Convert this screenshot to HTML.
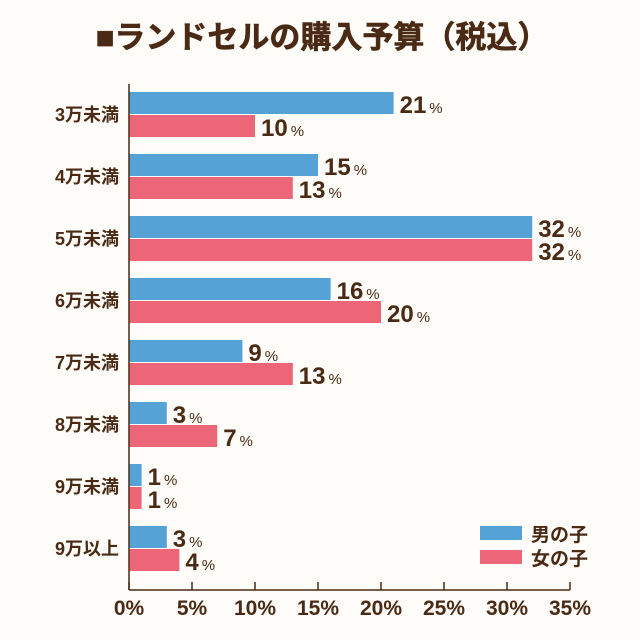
<!DOCTYPE html>
<html><head><meta charset="utf-8"><style>
body{margin:0;background:#fdfcf8;}
svg{display:block;font-family:"Liberation Sans","Noto Sans CJK JP",sans-serif;}
</style></head><body>
<svg id="c" width="640" height="640" viewBox="0 0 640 640">
<rect width="640" height="640" fill="#fdfcf8"/>
<text x="322" y="48" text-anchor="middle" font-size="31" font-weight="bold" fill="#4a2a14" stroke="#4a2a14" stroke-width="0.6">■ランドセルの購入予算（税込）</text>
</svg>
<script>
const categories=["3万未満","4万未満","5万未満","6万未満","7万未満","8万未満","9万未満","9万以上"];
const boys=[21,15,32,16,9,3,1,3];
const girls=[10,13,32,20,13,7,1,4];
const ticks=[0,5,10,15,20,25,30,35];
const seriesNames=["男の子","女の子"];
const svg=document.getElementById('c');
const NS="http://www.w3.org/2000/svg";
const x0=129,x1=570,xmax=35;
const xs=v=>x0+(x1-x0)*v/xmax;
const groupTop=i=>92+62*i;
const BH=22;
const brown="#4a2a14",blue="#55a3d6",pink="#ec6677";
function mk(tag,attrs){const e=document.createElementNS(NS,tag);for(const k in attrs)e.setAttribute(k,attrs[k]);svg.appendChild(e);return e;}
categories.forEach((c,i)=>{
  const t=mk('text',{x:119,y:groupTop(i)+BH+7,'text-anchor':'end','font-size':18,'font-weight':'bold',fill:brown});
  t.textContent=c;
  
  
  [[boys[i],blue,0,'bar-boys'],[girls[i],pink,BH+1,'bar-girls']].forEach(([v,col,off,nm])=>{
    const r=mk('rect',{x:x0,y:groupTop(i)+off,width:xs(v)-x0,height:BH,fill:col});
    
    
    const l=mk('text',{x:xs(v)+6,y:groupTop(i)+off+BH-1,'font-size':24,'font-weight':'bold',fill:brown});
    l.innerHTML=v+'<tspan font-size="15" font-weight="normal" dx="3">%</tspan>';
    
    
  });
});
const ax=mk('line',{x1:x0,y1:84,x2:x0,y2:590,stroke:brown,'stroke-width':1.5});


const bx=mk('line',{x1:x0,y1:590,x2:x1,y2:590,stroke:brown,'stroke-width':1.5});


ticks.forEach(t=>{
  const tk=mk('line',{x1:xs(t),y1:582,x2:xs(t),y2:590,stroke:brown,'stroke-width':1.5});
  
  
  const tl=mk('text',{x:xs(t),y:615,'text-anchor':'middle','font-size':21,'font-weight':'bold',fill:brown});
  tl.textContent=t+'%';
  
  
});
[[blue,526],[pink,550]].forEach(([col,y],k)=>{
  const r=mk('rect',{x:480,y:y,width:42,height:14,fill:col});
  
  
  const t=mk('text',{x:531,y:y+15,'font-size':19,'font-weight':'bold',fill:brown});
  t.textContent=seriesNames[k];
  
  
});
</script>
</body></html>
